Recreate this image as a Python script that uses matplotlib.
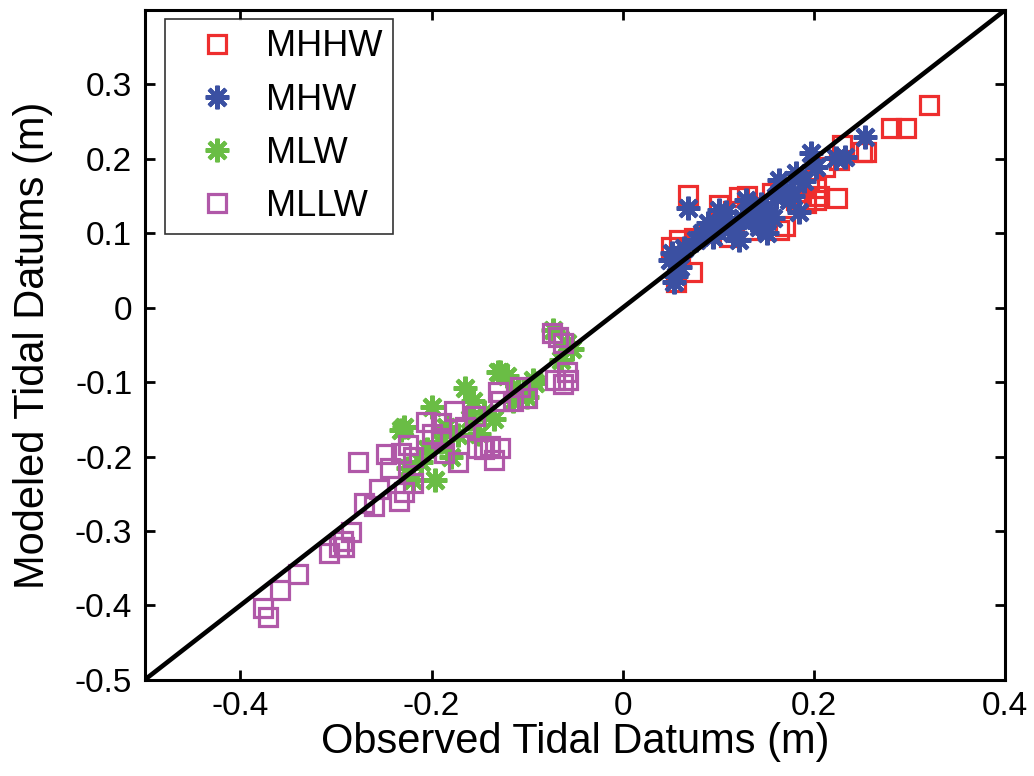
import matplotlib
matplotlib.use("Agg")
import matplotlib.pyplot as plt

plt.rcParams["font.family"] = ["Liberation Sans", "DejaVu Sans"]

# observed (x) and modeled (y) tidal datums, metres
mhhw_obs = [0.320, 0.281, 0.296, 0.250, 0.255, 0.229, 0.224, 0.068, 0.073, 0.056,
            0.202, 0.202, 0.164, 0.122, 0.101, 0.051, 0.059, 0.075, 0.111, 0.135,
            0.212, 0.226, 0.156, 0.195, 0.181, 0.192, 0.115, 0.130, 0.145, 0.170,
            0.060, 0.090, 0.185, 0.205, 0.140]
mhhw_mod = [0.272, 0.242, 0.242, 0.209, 0.209, 0.219, 0.148, 0.152, 0.048, 0.034,
            0.145, 0.161, 0.105, 0.149, 0.138, 0.082, 0.091, 0.094, 0.095, 0.105,
            0.189, 0.199, 0.154, 0.172, 0.145, 0.141, 0.130, 0.150, 0.120, 0.110,
            0.070, 0.100, 0.155, 0.150, 0.135]

mhw_obs = [0.052, 0.056, 0.054, 0.049, 0.077, 0.089, 0.101, 0.108, 0.098, 0.115,
           0.129, 0.135, 0.150, 0.151, 0.160, 0.164, 0.174, 0.184, 0.181, 0.197,
           0.202, 0.223, 0.233, 0.254, 0.068, 0.122, 0.143, 0.060, 0.083, 0.094,
           0.110, 0.125, 0.140, 0.157, 0.170, 0.178, 0.190, 0.064, 0.105, 0.145]
mhw_mod = [0.074, 0.042, 0.034, 0.064, 0.091, 0.114, 0.132, 0.128, 0.105, 0.101,
           0.145, 0.118, 0.132, 0.101, 0.149, 0.172, 0.145, 0.129, 0.181, 0.208,
           0.189, 0.201, 0.203, 0.230, 0.134, 0.091, 0.109, 0.055, 0.100, 0.095,
           0.112, 0.120, 0.125, 0.120, 0.160, 0.150, 0.170, 0.080, 0.110, 0.140]

mlw_obs = [-0.165, -0.130, -0.121, -0.199, -0.157, -0.135, -0.196, -0.229, -0.092,
           -0.053, -0.172, -0.211, -0.232, -0.219, -0.128, -0.094, -0.058, -0.073,
           -0.185, -0.145, -0.110, -0.205, -0.065, -0.180, -0.150, -0.225, -0.100,
           -0.160, -0.115, -0.190]
mlw_mod = [-0.108, -0.086, -0.092, -0.134, -0.126, -0.150, -0.231, -0.160, -0.101,
           -0.056, -0.171, -0.208, -0.164, -0.231, -0.086, -0.097, -0.047, -0.030,
           -0.160, -0.140, -0.110, -0.190, -0.070, -0.200, -0.170, -0.215, -0.120,
           -0.150, -0.125, -0.180]

mllw_obs = [-0.371, -0.376, -0.358, -0.340, -0.307, -0.297, -0.292, -0.284, -0.293,
            -0.277, -0.271, -0.260, -0.255, -0.234, -0.248, -0.243, -0.232, -0.074,
            -0.062, -0.071, -0.058, -0.057, -0.062, -0.130, -0.107, -0.100, -0.115,
            -0.128, -0.177, -0.154, -0.206, -0.190, -0.225, -0.219, -0.190, -0.187,
            -0.172, -0.152, -0.139, -0.128, -0.135, -0.219, -0.229, -0.200, -0.165,
            -0.145, -0.068]
mllw_mod = [-0.416, -0.403, -0.379, -0.358, -0.330, -0.322, -0.321, -0.302, -0.314,
            -0.207, -0.262, -0.267, -0.244, -0.260, -0.197, -0.215, -0.195, -0.034,
            -0.047, -0.097, -0.087, -0.097, -0.103, -0.113, -0.106, -0.121, -0.126,
            -0.126, -0.139, -0.146, -0.154, -0.155, -0.184, -0.200, -0.175, -0.195,
            -0.208, -0.188, -0.186, -0.188, -0.204, -0.235, -0.248, -0.170, -0.160,
            -0.190, -0.040]

diag = [-0.5, 0.4]

fig = plt.figure(figsize=(10.34, 7.76), dpi=100)
ax = fig.add_axes([0.140, 0.124, 0.832, 0.863])

star = (8, 2, 0)
ax.plot(mhhw_obs, mhhw_mod, "s", ls="none", mfc="none", mec="#ee2e2e", ms=13, mew=2.3, label="MHHW")
ax.plot(mhw_obs, mhw_mod, marker=star, ls="none", color="#3b50a2", ms=17, mew=3, label="MHW")
ax.plot(mlw_obs, mlw_mod, marker=star, ls="none", color="#6abd45", ms=17, mew=3, label="MLW")
ax.plot(mllw_obs, mllw_mod, "s", ls="none", mfc="none", mec="#b058a8", ms=13, mew=2.3, label="MLLW")
ax.plot(diag, diag, color="black", lw=3.3, zorder=5)

ax.set_xlim(-0.5, 0.4)
ax.set_ylim(-0.5, 0.4)
ax.set_xticks([-0.4, -0.2, 0, 0.2, 0.4])
ax.set_xticklabels(["-0.4", "-0.2", "0", "0.2", "0.4"])
ax.set_yticks([-0.5, -0.4, -0.3, -0.2, -0.1, 0, 0.1, 0.2, 0.3])
ax.set_yticklabels(["-0.5", "-0.4", "-0.3", "-0.2", "-0.1", "0", "0.1", "0.2", "0.3"])
ax.tick_params(direction="in", top=True, right=True, labelsize=24, length=7, width=2)
ax.tick_params(axis="x", pad=8)
ax.tick_params(axis="y", pad=9)
for s in ax.spines.values():
    s.set_linewidth(2.2)

ax.set_xlabel("Observed Tidal Datums (m)", fontsize=30, labelpad=0)
ax.set_ylabel("Modeled Tidal Datums (m)", fontsize=30, labelpad=16)

leg = ax.legend(loc="upper left", fontsize=26, frameon=True, fancybox=False,
                edgecolor="black", borderpad=0.3, labelspacing=0.5,
                handlelength=2.3, handletextpad=0.2, numpoints=1,
                bbox_to_anchor=(0.015, 0.998), borderaxespad=0.2)
leg.get_frame().set_linewidth(1.2)

fig.savefig("out.png", dpi=100)
